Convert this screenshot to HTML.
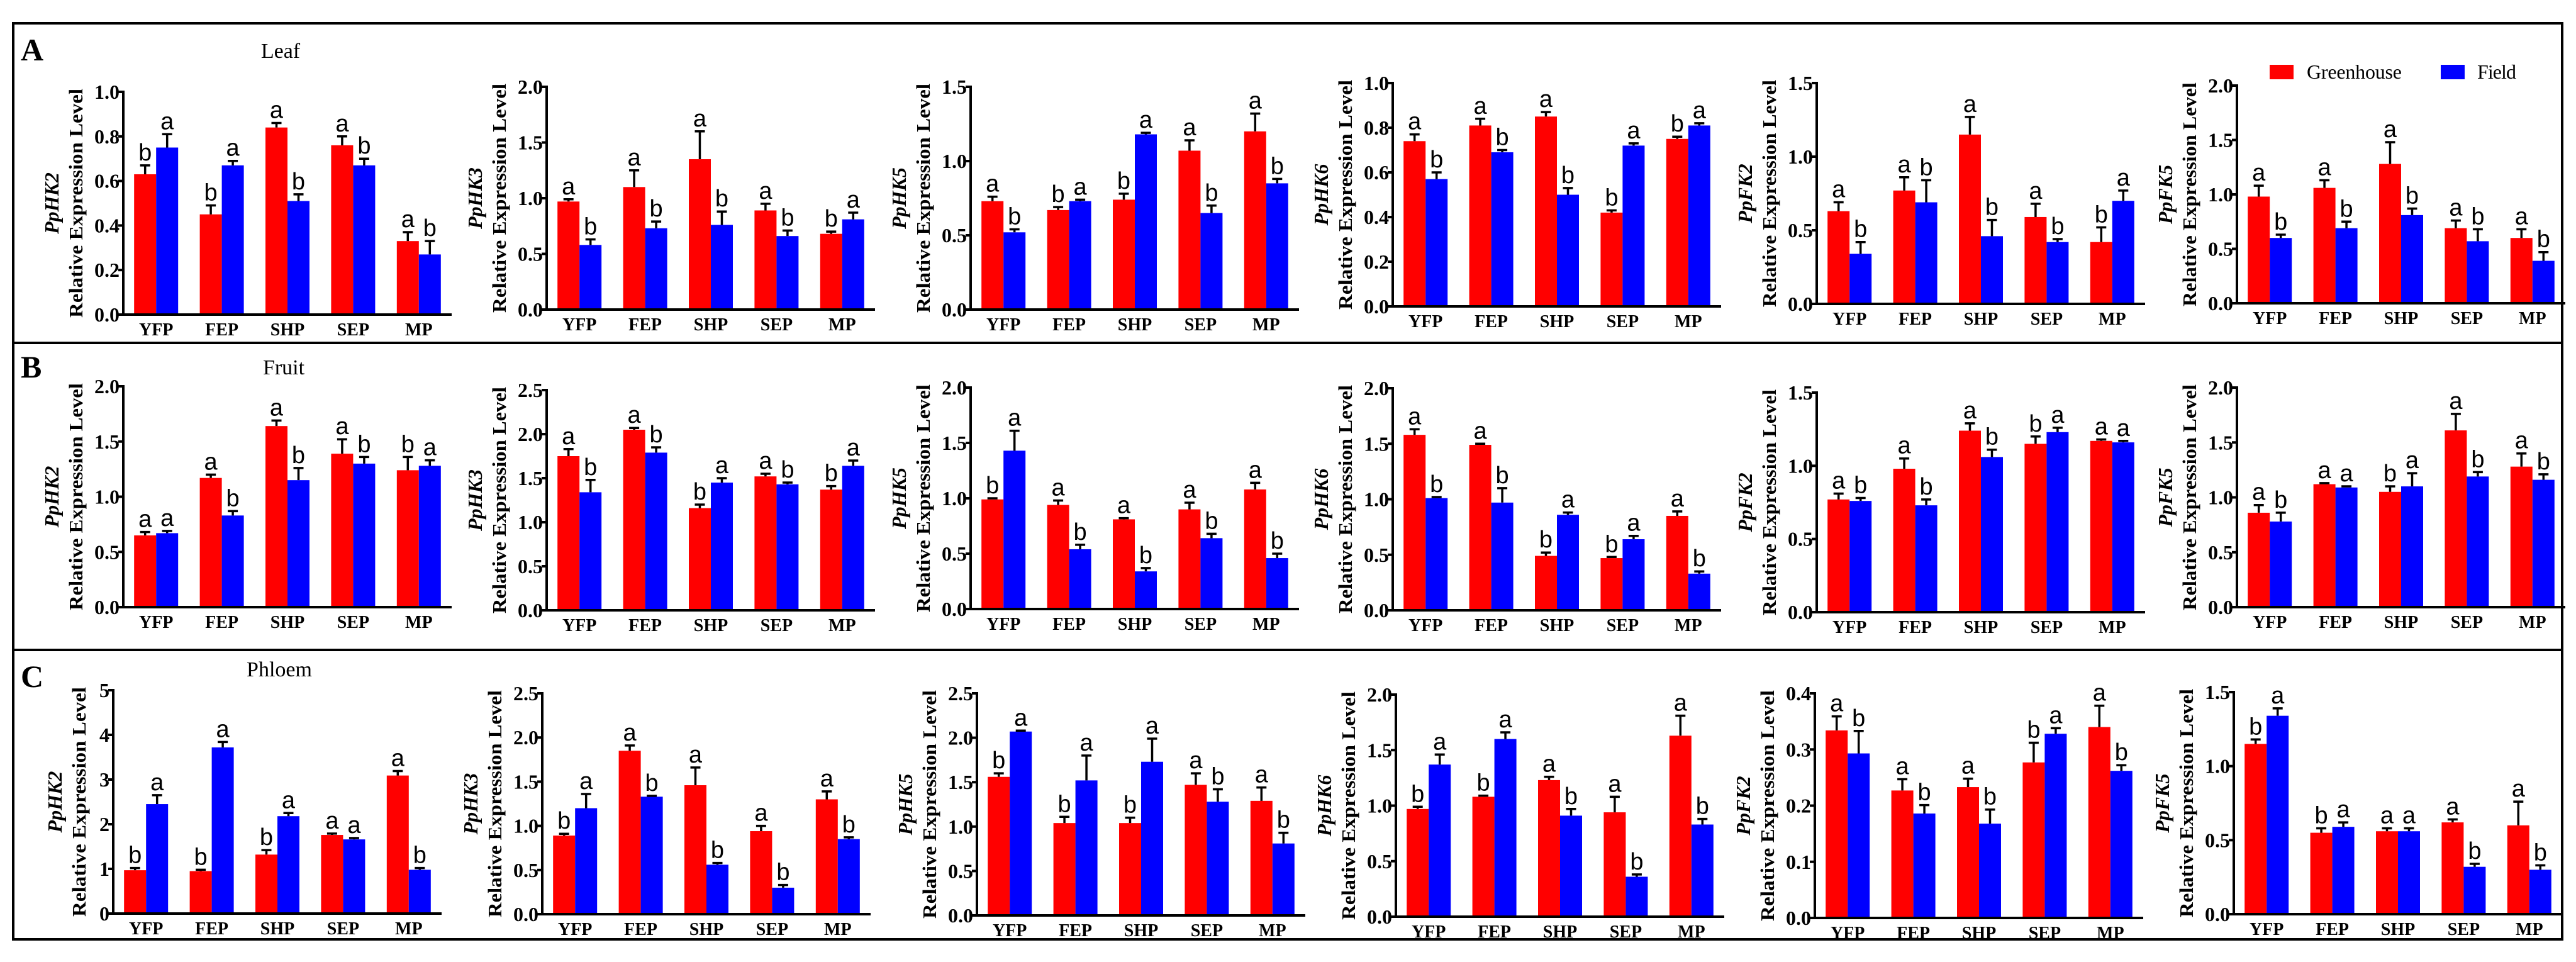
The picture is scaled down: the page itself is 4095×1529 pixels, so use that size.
<!DOCTYPE html>
<html><head><meta charset="utf-8">
<style>
html,body{margin:0;padding:0;background:#fff;}
svg{display:block;}
.tick{font-family:"Liberation Serif",serif;font-weight:bold;font-size:32px;}
.xl{font-family:"Liberation Serif",serif;font-weight:bold;font-size:28px;}
.let{font-family:"Liberation Sans",sans-serif;font-size:38px;}
.yt{font-family:"Liberation Serif",serif;font-weight:bold;font-size:31px;}
.gene{font-family:"Liberation Serif",serif;font-weight:bold;font-style:italic;font-size:32px;}
.row{font-family:"Liberation Serif",serif;font-weight:bold;font-size:50px;}
.tis{font-family:"Liberation Serif",serif;font-size:34px;}
.leg{font-family:"Liberation Serif",serif;font-size:32px;}
</style></head>
<body>
<svg id="fig" width="4095" height="1529" viewBox="0 0 4095 1529" xmlns="http://www.w3.org/2000/svg">
<rect x="21" y="37" width="4052" height="1456" fill="none" stroke="#000" stroke-width="4"/>
<line x1="21" y1="545" x2="4073" y2="545" stroke="#000" stroke-width="4"/>
<line x1="21" y1="1033" x2="4073" y2="1033" stroke="#000" stroke-width="4"/>
<text class="row" x="33" y="96">A</text>
<text class="row" x="33" y="600">B</text>
<text class="row" x="33" y="1092">C</text>
<text class="tis" x="446" y="92" text-anchor="middle">Leaf</text>
<text class="tis" x="451" y="595" text-anchor="middle">Fruit</text>
<text class="tis" x="444" y="1075" text-anchor="middle">Phloem</text>
<g>
<rect x="3608" y="103" width="38" height="23" fill="#ff0000"/>
<text class="leg" x="3667" y="125" textLength="151">Greenhouse</text>
<rect x="3880" y="103" width="38" height="23" fill="#0000ff"/>
<text class="leg" x="3938" y="125" textLength="62">Field</text>
</g>
</svg>
<script>
// ---- data ----
const categories = ["YFP","FEP","SHP","SEP","MP"];
const genes = ["HK2","HK3","HK5","HK6","FK2","FK5"];
const seriesNames = ["Greenhouse","Field"];

// Leaf (row A)
const leafGreenhouse = [[0.63,0.45,0.84,0.76,0.33],[0.97,1.10,1.35,0.89,0.68],[0.73,0.67,0.74,1.07,1.20],[0.74,0.81,0.85,0.42,0.75],[0.63,0.77,1.15,0.59,0.42],[0.98,1.06,1.28,0.69,0.60]];
const leafField = [[0.75,0.67,0.51,0.67,0.27],[0.58,0.73,0.76,0.66,0.81],[0.52,0.73,1.18,0.65,0.85],[0.57,0.69,0.50,0.72,0.81],[0.34,0.69,0.46,0.42,0.70],[0.60,0.69,0.81,0.57,0.39]];
const leafGreenhouseErr = [[0.04,0.04,0.02,0.04,0.04],[0.02,0.15,0.25,0.06,0.02],[0.03,0.02,0.04,0.07,0.12],[0.03,0.03,0.02,0.01,0.01],[0.06,0.09,0.12,0.09,0.10],[0.10,0.07,0.20,0.07,0.08]];
const leafFieldErr = [[0.06,0.02,0.03,0.03,0.06],[0.05,0.06,0.12,0.05,0.06],[0.02,0.01,0.01,0.05,0.03],[0.03,0.01,0.03,0.01,0.01],[0.08,0.15,0.11,0.02,0.07],[0.03,0.06,0.06,0.11,0.08]];
const leafGreenhouseLet = [["b","b","a","a","a"],["a","a","a","a","b"],["a","b","b","a","a"],["a","a","a","b","b"],["a","a","a","a","b"],["a","a","a","a","a"]];
const leafFieldLet = [["a","a","b","b","b"],["b","b","b","b","a"],["b","a","a","b","b"],["b","b","b","a","a"],["b","b","b","b","a"],["b","b","b","b","b"]];
const leafMax = [1.0,2.0,1.5,1.0,1.5,2.0];
const leafStep = [0.2,0.5,0.5,0.2,0.5,0.5];

// Fruit (row B)
const fruitGreenhouse = [[0.65,1.17,1.64,1.39,1.24],[1.75,2.05,1.16,1.52,1.37],[0.99,0.94,0.81,0.90,1.08],[1.58,1.49,0.49,0.47,0.85],[0.77,0.98,1.24,1.15,1.17],[0.86,1.12,1.05,1.61,1.28]];
const fruitField = [[0.67,0.83,1.15,1.30,1.28],[1.34,1.79,1.45,1.43,1.64],[1.43,0.54,0.34,0.64,0.46],[1.01,0.97,0.86,0.64,0.33],[0.76,0.73,1.06,1.23,1.16],[0.78,1.09,1.10,1.19,1.16]];
const fruitGreenhouseErr = [[0.03,0.03,0.05,0.13,0.12],[0.08,0.02,0.04,0.03,0.04],[0.01,0.04,0.01,0.06,0.06],[0.05,0.01,0.03,0.01,0.04],[0.04,0.07,0.05,0.05,0.01],[0.07,0.01,0.05,0.15,0.12]];
const fruitFieldErr = [[0.02,0.04,0.11,0.06,0.05],[0.14,0.06,0.05,0.02,0.06],[0.18,0.04,0.03,0.04,0.04],[0.01,0.13,0.02,0.03,0.02],[0.02,0.04,0.05,0.03,0.01],[0.08,0.01,0.12,0.04,0.05]];
const fruitGreenhouseLet = [["a","a","a","a","b"],["a","a","b","a","b"],["b","a","a","a","a"],["a","a","b","b","a"],["a","a","a","b","a"],["a","a","b","a","a"]];
const fruitFieldLet = [["a","b","b","b","a"],["b","b","a","b","a"],["a","b","b","b","b"],["b","b","a","a","b"],["b","b","b","a","a"],["b","a","a","b","b"]];
const fruitMax = [2.0,2.5,2.0,2.0,1.5,2.0];
const fruitStep = [0.5,0.5,0.5,0.5,0.5,0.5];

// Phloem (row C)
const phloemGreenhouse = [[0.97,0.95,1.32,1.76,3.09],[0.89,1.85,1.46,0.94,1.30],[1.56,1.04,1.04,1.47,1.29],[0.97,1.08,1.23,0.94,1.63],[0.334,0.227,0.233,0.277,0.340],[1.15,0.55,0.56,0.62,0.60]];
const phloemField = [[2.45,3.72,2.18,1.66,0.98],[1.20,1.33,0.56,0.30,0.85],[2.07,1.52,1.73,1.28,0.81],[1.37,1.60,0.91,0.36,0.83],[0.293,0.186,0.168,0.328,0.262],[1.34,0.59,0.56,0.32,0.30]];
const phloemGreenhouseErr = [[0.05,0.03,0.10,0.03,0.10],[0.02,0.06,0.20,0.06,0.09],[0.04,0.07,0.06,0.13,0.15],[0.02,0.01,0.03,0.14,0.18],[0.025,0.02,0.015,0.035,0.038],[0.03,0.03,0.02,0.02,0.16]];
const phloemFieldErr = [[0.20,0.12,0.07,0.03,0.04],[0.16,0.01,0.02,0.03,0.02],[0.01,0.28,0.26,0.14,0.12],[0.09,0.06,0.06,0.02,0.05],[0.04,0.015,0.025,0.01,0.01],[0.05,0.03,0.02,0.02,0.03]];
const phloemGreenhouseLet = [["b","b","b","a","a"],["b","a","a","a","a"],["b","b","b","a","a"],["b","b","a","a","a"],["a","a","a","b","a"],["b","b","a","a","a"]];
const phloemFieldLet = [["a","a","a","a","b"],["a","b","b","b","b"],["a","a","a","b","b"],["a","a","b","b","b"],["b","b","b","a","b"],["a","a","a","b","b"]];
const phloemMax = [5,2.5,2.5,2.0,0.4,1.5];
const phloemStep = [1,0.5,0.5,0.5,0.1,0.5];

// ---- layout (pixels) ----
const layout = {
  a:{ax:[196,869,1543,2214,2888,3556], top:[146,138,138,132,132,136], base:[500,492,492,487,483,482]},
  b:{ax:[196,869,1543,2214,2888,3556], top:[614,620,616,617,624,616], base:[965,970,968,970,973,965]},
  c:{ax:[180,862,1553,2219,2885,3551], top:[1097,1102,1102,1104,1102,1100], base:[1452,1453,1455,1457,1459,1453]}
};
const PLOT_W = 522, BAR_W = 35;
const NS = "http://www.w3.org/2000/svg";
const svg = document.getElementById("fig");

function mk(tag, attrs, parent){
  const e = document.createElementNS(NS, tag);
  for (const k in attrs) e.setAttribute(k, attrs[k]);
  (parent||svg).appendChild(e);
  return e;
}

function drawPanel(rowKey, p, gh, fd, ghE, fdE, ghL, fdL, vmax, step){
  const L = layout[rowKey];
  const ax = L.ax[p], top = L.top[p], base = L.base[p];
  const g = mk("g", {});
  
  
  const y = v => base - (v / vmax) * (base - top);
  const pitch = PLOT_W / categories.length;
  const xc = i => ax + pitch * (i + 0.5);
  const dec = step >= 1 ? 0 : 1;

  // bars
  for (let i = 0; i < categories.length; i++) {
    const series = [[gh[i], ghE[i], ghL[i], "#ff0000", xc(i) - BAR_W, "greenhouse"], [fd[i], fdE[i], fdL[i], "#0000ff", xc(i), "field"]];
    for (const s of series) {
      const [v, e, lt, col, bx, nm] = s;
      const r = mk("rect", {x: bx, y: y(v), width: BAR_W, height: base - y(v), fill: col}, g);
      
      
      const cx = bx + BAR_W / 2;
      const eb = mk("path", {d: "M" + cx + " " + y(v) + "V" + y(v + e) + "M" + (cx - 8) + " " + y(v + e) + "H" + (cx + 8), stroke: "#000", "stroke-width": 3.5, fill: "none"}, g);
      
      
      const t = mk("text", {x: cx, y: y(v + e) - 8, "text-anchor": "middle", class: "let"}, g);
      t.textContent = lt;
      
      
    }
  }
  // axes
  const yaxis = mk("line", {x1: ax, y1: top - 2, x2: ax, y2: base + 2, stroke: "#000", "stroke-width": 4}, g);
  
  
  const xaxis = mk("line", {x1: ax - 2, y1: base, x2: ax + PLOT_W, y2: base, stroke: "#000", "stroke-width": 4}, g);
  
  
  let maxLabW = 0;
  const nT = Math.round(vmax / step);
  for (let k = 0; k <= nT; k++) {
    const v = k * step;
    mk("line", {x1: ax - 8, y1: y(v), x2: ax, y2: y(v), stroke: "#000", "stroke-width": 4}, g);
    const t = mk("text", {x: ax - 6, y: y(v) + 11, "text-anchor": "end", class: "tick"}, g);
    t.textContent = v.toFixed(dec);
    
    
    maxLabW = Math.max(maxLabW, dec ? 40 : 19);
  }
  for (let i = 0; i < categories.length; i++) {
    const t = mk("text", {x: xc(i), y: base + 33, "text-anchor": "middle", class: "xl"}, g);
    t.textContent = categories[i];
    
    
  }
  // y titles
  const cy = (top + base) / 2;
  const relX = ax - 6 - maxLabW - 30;
  const rt = mk("text", {x: relX, y: cy, "text-anchor": "middle", class: "yt", transform: "rotate(-90 " + relX + " " + cy + ")", dy: "11", textLength: (base - top) + 10, lengthAdjust: "spacingAndGlyphs"}, g);
  rt.textContent = "Relative Expression Level";
  
  
  const gx = relX - 38;
  const gt = mk("text", {x: gx, y: cy, "text-anchor": "middle", class: "gene", transform: "rotate(-90 " + gx + " " + cy + ")", dy: "11"}, g);
  gt.textContent = "Pp" + genes[p];
  
  
}

for (let p = 0; p < 6; p++) {
  drawPanel("a", p, leafGreenhouse[p], leafField[p], leafGreenhouseErr[p], leafFieldErr[p], leafGreenhouseLet[p], leafFieldLet[p], leafMax[p], leafStep[p]);
  drawPanel("b", p, fruitGreenhouse[p], fruitField[p], fruitGreenhouseErr[p], fruitFieldErr[p], fruitGreenhouseLet[p], fruitFieldLet[p], fruitMax[p], fruitStep[p]);
  drawPanel("c", p, phloemGreenhouse[p], phloemField[p], phloemGreenhouseErr[p], phloemFieldErr[p], phloemGreenhouseLet[p], phloemFieldLet[p], phloemMax[p], phloemStep[p]);
}
</script>
</body></html>
